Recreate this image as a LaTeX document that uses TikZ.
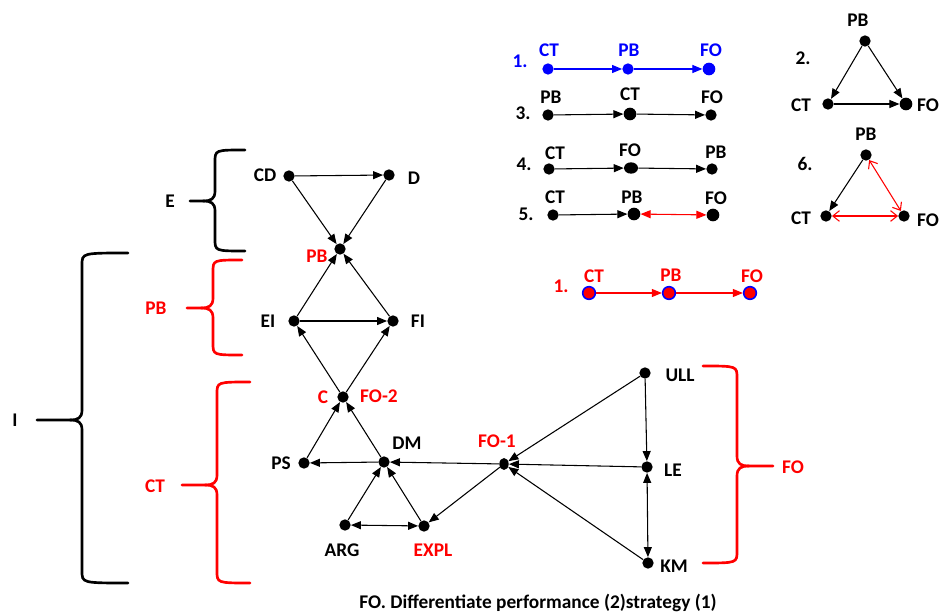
\documentclass[tikz,border=0pt]{standalone}
\usepackage{fontspec}
\setmainfont{Carlito}
\usetikzlibrary{arrows.meta,shapes.geometric}
\tikzset{
  dot/.style={circle,fill,inner sep=0pt,minimum size=8.5pt},
  lbl/.style={font=\fontsize{14.5}{16}\selectfont\bfseries,inner sep=1pt},
  arr/.style={-{Triangle[length=7.5pt,width=6pt]},line width=0.8pt},
  darr/.style={{Triangle[length=7.5pt,width=6pt]}-{Triangle[length=7.5pt,width=6pt]},line width=0.8pt},
  oarr/.style={{Straight Barb[length=5pt,width=8pt]}-{Straight Barb[length=5pt,width=8pt]},line width=0.8pt},
  bracepath/.style={line width=2pt,line cap=round},
}
\begin{document}
\begin{tikzpicture}[x=0.75pt,y=-0.75pt]
\useasboundingbox (0,0) rectangle (939,616);

% main graph
\node[dot] (CD) at (289,176) {};
\node[dot] (D) at (389,175) {};
\node[dot] (PB) at (340,249) {};
\node[dot] (EI) at (294,321) {};
\node[dot] (FI) at (393,321) {};
\node[dot] (C) at (343,397) {};
\node[dot] (PS) at (304,463) {};
\node[dot] (DM) at (384,462) {};
\node[dot,ellipse,minimum width=7pt,minimum height=9pt] (FO1) at (504,464) {};
\node[dot] (ARG) at (345,525) {};
\node[dot] (EXPL) at (424,526) {};
\node[dot] (ULL) at (645,373) {};
\node[dot] (LE) at (647,467) {};
\node[dot] (KM) at (648,563) {};

\node[lbl] (CD-t) at (265,175) {CD};
\node[lbl] (D-t) at (414,178) {D};
\node[lbl,red] (PB-t) at (317,256) {PB};
\node[lbl] (EI-t) at (268,321) {EI};
\node[lbl] (FI-t) at (418,321) {FI};
\node[lbl,red] (C-t) at (323,397) {C};
\node[lbl,red] (FO2-t) at (379,396) {FO-2};
\node[lbl] (PS-t) at (281,463) {PS};
\node[lbl] (DM-t) at (407,443) {DM};
\node[lbl,red] (FO1-t) at (497,441) {FO-1};
\node[lbl] (ARG-t) at (342,550) {ARG};
\node[lbl,red] (EXPL-t) at (433,550) {EXPL};
\node[lbl] (ULL-t) at (680,375) {ULL};
\node[lbl] (LE-t) at (673,470) {LE};
\node[lbl] (KM-t) at (674,566) {KM};

\draw[arr] (CD) -- (D);
\draw[arr] (CD) -- (PB);
\draw[arr] (D) -- (PB);
\draw[arr] (EI) -- (PB);
\draw[arr] (FI) -- (PB);
\draw[arr] (EI) -- (FI);
\draw[arr] (C) -- (EI);
\draw[arr] (C) -- (FI);
\draw[arr] (PS) -- (C);
\draw[arr] (DM) -- (C);
\draw[arr] (DM) -- (PS);
\draw[arr] (FO1) -- (DM);
\draw[arr] (ARG) -- (DM);
\draw[arr] (EXPL) -- (DM);
\draw[darr] (ARG) -- (EXPL);
\draw[arr] (FO1) -- (EXPL);
\draw[arr] (ULL) -- (FO1);
\draw[arr] (LE) -- (FO1);
\draw[arr] (KM) -- (FO1);
\draw[arr] (ULL) -- (LE);
\draw[darr] (LE) -- (KM);

% braces
\draw[bracepath] (245,150) .. controls (215,150) .. (215,162) -- (215,191) .. controls (215,199) and (211,201) .. (203,201) -- (190,201);
\draw[bracepath] (203,201) .. controls (211,201) and (215,203) .. (215,211) -- (215,239) .. controls (215,251) .. (245,251);
\node[lbl] (E-t) at (170,201) {E};

\draw[bracepath,red] (242,260) .. controls (213,260) .. (213,272) -- (213,298) .. controls (213,306) and (209,308) .. (201,308) -- (187,308);
\draw[bracepath,red] (201,308) .. controls (209,308) and (213,310) .. (213,318) -- (213,343) .. controls (213,355) .. (242,355);
\node[lbl,red] (PBb-t) at (156,308) {PB};

\draw[bracepath,red] (250,382) .. controls (217,382) .. (217,394) -- (217,475) .. controls (217,483) and (213,485) .. (205,485) -- (182,485);
\draw[bracepath,red] (205,485) .. controls (213,485) and (217,487) .. (217,495) -- (217,571) .. controls (217,583) .. (250,583);
\node[lbl,red] (CTb-t) at (155,486) {CT};

\draw[bracepath] (128,253) .. controls (82,253) .. (82,265) -- (82,410) .. controls (82,418) and (78,420) .. (70,420) -- (37,420);
\draw[bracepath] (70,420) .. controls (78,420) and (82,422) .. (82,430) -- (82,571) .. controls (82,583) .. (128,583);
\node[lbl] (I-t) at (15,420) {I};

\draw[bracepath,red] (703,366) .. controls (737,366) .. (737,378) -- (737,456) .. controls (737,464) and (741,466) .. (749,466) -- (773,466);
\draw[bracepath,red] (749,466) .. controls (741,466) and (737,468) .. (737,476) -- (737,551) .. controls (737,563) .. (703,563);
\node[lbl,red] (FOb-t) at (793,467) {FO};

% sequences
\begin{scope}[blue]
\node[lbl] (n1) at (520,61) {1.};
\node[dot] (a1) at (548,69) {};
\node[dot] (a2) at (628,69) {};
\node[dot,minimum size=9.5pt] (a3) at (709,69) {};
\node[lbl] (a1-t) at (549,50) {CT};
\node[lbl] (a2-t) at (629,50) {PB};
\node[lbl] (a3-t) at (711,50) {FO};
\draw[arr] (a1) -- (a2);
\draw[arr] (a2) -- (a3);
\end{scope}

\node[lbl] (n3) at (523,113) {3.};
\node[dot] (b1) at (548,115) {};
\node[dot,minimum size=9.5pt] (b2) at (630,114) {};
\node[dot] (b3) at (711,115) {};
\node[lbl] (b1-t) at (551,97) {PB};
\node[lbl] (b2-t) at (630,94) {CT};
\node[lbl] (b3-t) at (712,97) {FO};
\draw[arr] (b1) -- (b2);
\draw[arr] (b2) -- (b3);

\node[lbl] (n4) at (524,164) {4.};
\node[dot] (c1) at (549,169) {};
\node[dot,ellipse,minimum width=10.5pt,minimum height=8.5pt] (c2) at (631,168) {};
\node[dot] (c3) at (712,169) {};
\node[lbl] (c1-t) at (555,153) {CT};
\node[lbl] (c2-t) at (630,150) {FO};
\node[lbl] (c3-t) at (716,152) {PB};
\draw[arr] (c1) -- (c2);
\draw[arr] (c2) -- (c3);

\node[lbl] (n5) at (526,214) {5.};
\node[dot] (d1) at (553,215) {};
\node[dot,minimum size=9.5pt] (d2) at (634,214) {};
\node[dot,minimum size=9.5pt] (d3) at (713,215) {};
\node[lbl] (d1-t) at (555,197) {CT};
\node[lbl] (d2-t) at (632,197) {PB};
\node[lbl] (d3-t) at (716,198) {FO};
\draw[arr] (d1) -- (d2);
\draw[darr,red] (d2) -- (d3);

% triangles
\node[lbl] (n2) at (803,58) {2.};
\node[dot] (t1) at (865,41) {};
\node[dot] (t2) at (828,104) {};
\node[dot,minimum size=9.5pt] (t3) at (906,104) {};
\node[lbl] (t1-t) at (858,20) {PB};
\node[lbl] (t2-t) at (801,105) {CT};
\node[lbl] (t3-t) at (928,105) {FO};
\draw[arr] (t1) -- (t2);
\draw[arr] (t1) -- (t3);
\draw[arr] (t2) -- (t3);

\node[lbl] (n6) at (805,164) {6.};
\node[dot] (s1) at (866,155) {};
\node[dot] (s2) at (826,216) {};
\node[dot] (s3) at (904,216) {};
\node[lbl] (s1-t) at (866,134) {PB};
\node[lbl] (s2-t) at (801,218) {CT};
\node[lbl] (s3-t) at (928,220) {FO};
\draw[arr] (s1) -- (s2);
\draw[oarr,red] (s1) -- (s3);
\draw[oarr,red] (s2) -- (s3);

% red sequence
\node[lbl,red] (m1) at (561,286) {1.};
\node[dot,fill=red,draw=blue,line width=1.2pt,minimum size=9.5pt] (e1) at (589,293) {};
\node[dot,fill=red,draw=blue,line width=1.2pt,minimum size=9.5pt] (e2) at (669,293) {};
\node[dot,fill=red,draw=blue,line width=1.2pt,minimum size=9.5pt] (e3) at (750,293) {};
\node[lbl,red] (e1-t) at (594,276) {CT};
\node[lbl,red] (e2-t) at (671,275) {PB};
\node[lbl,red] (e3-t) at (752,276) {FO};
\draw[arr,red] (e1) -- (e2);
\draw[arr,red] (e2) -- (e3);

\node[lbl] (title) at (538,603) {FO. Differentiate performance (2)strategy (1)};
\end{tikzpicture}
\end{document}
